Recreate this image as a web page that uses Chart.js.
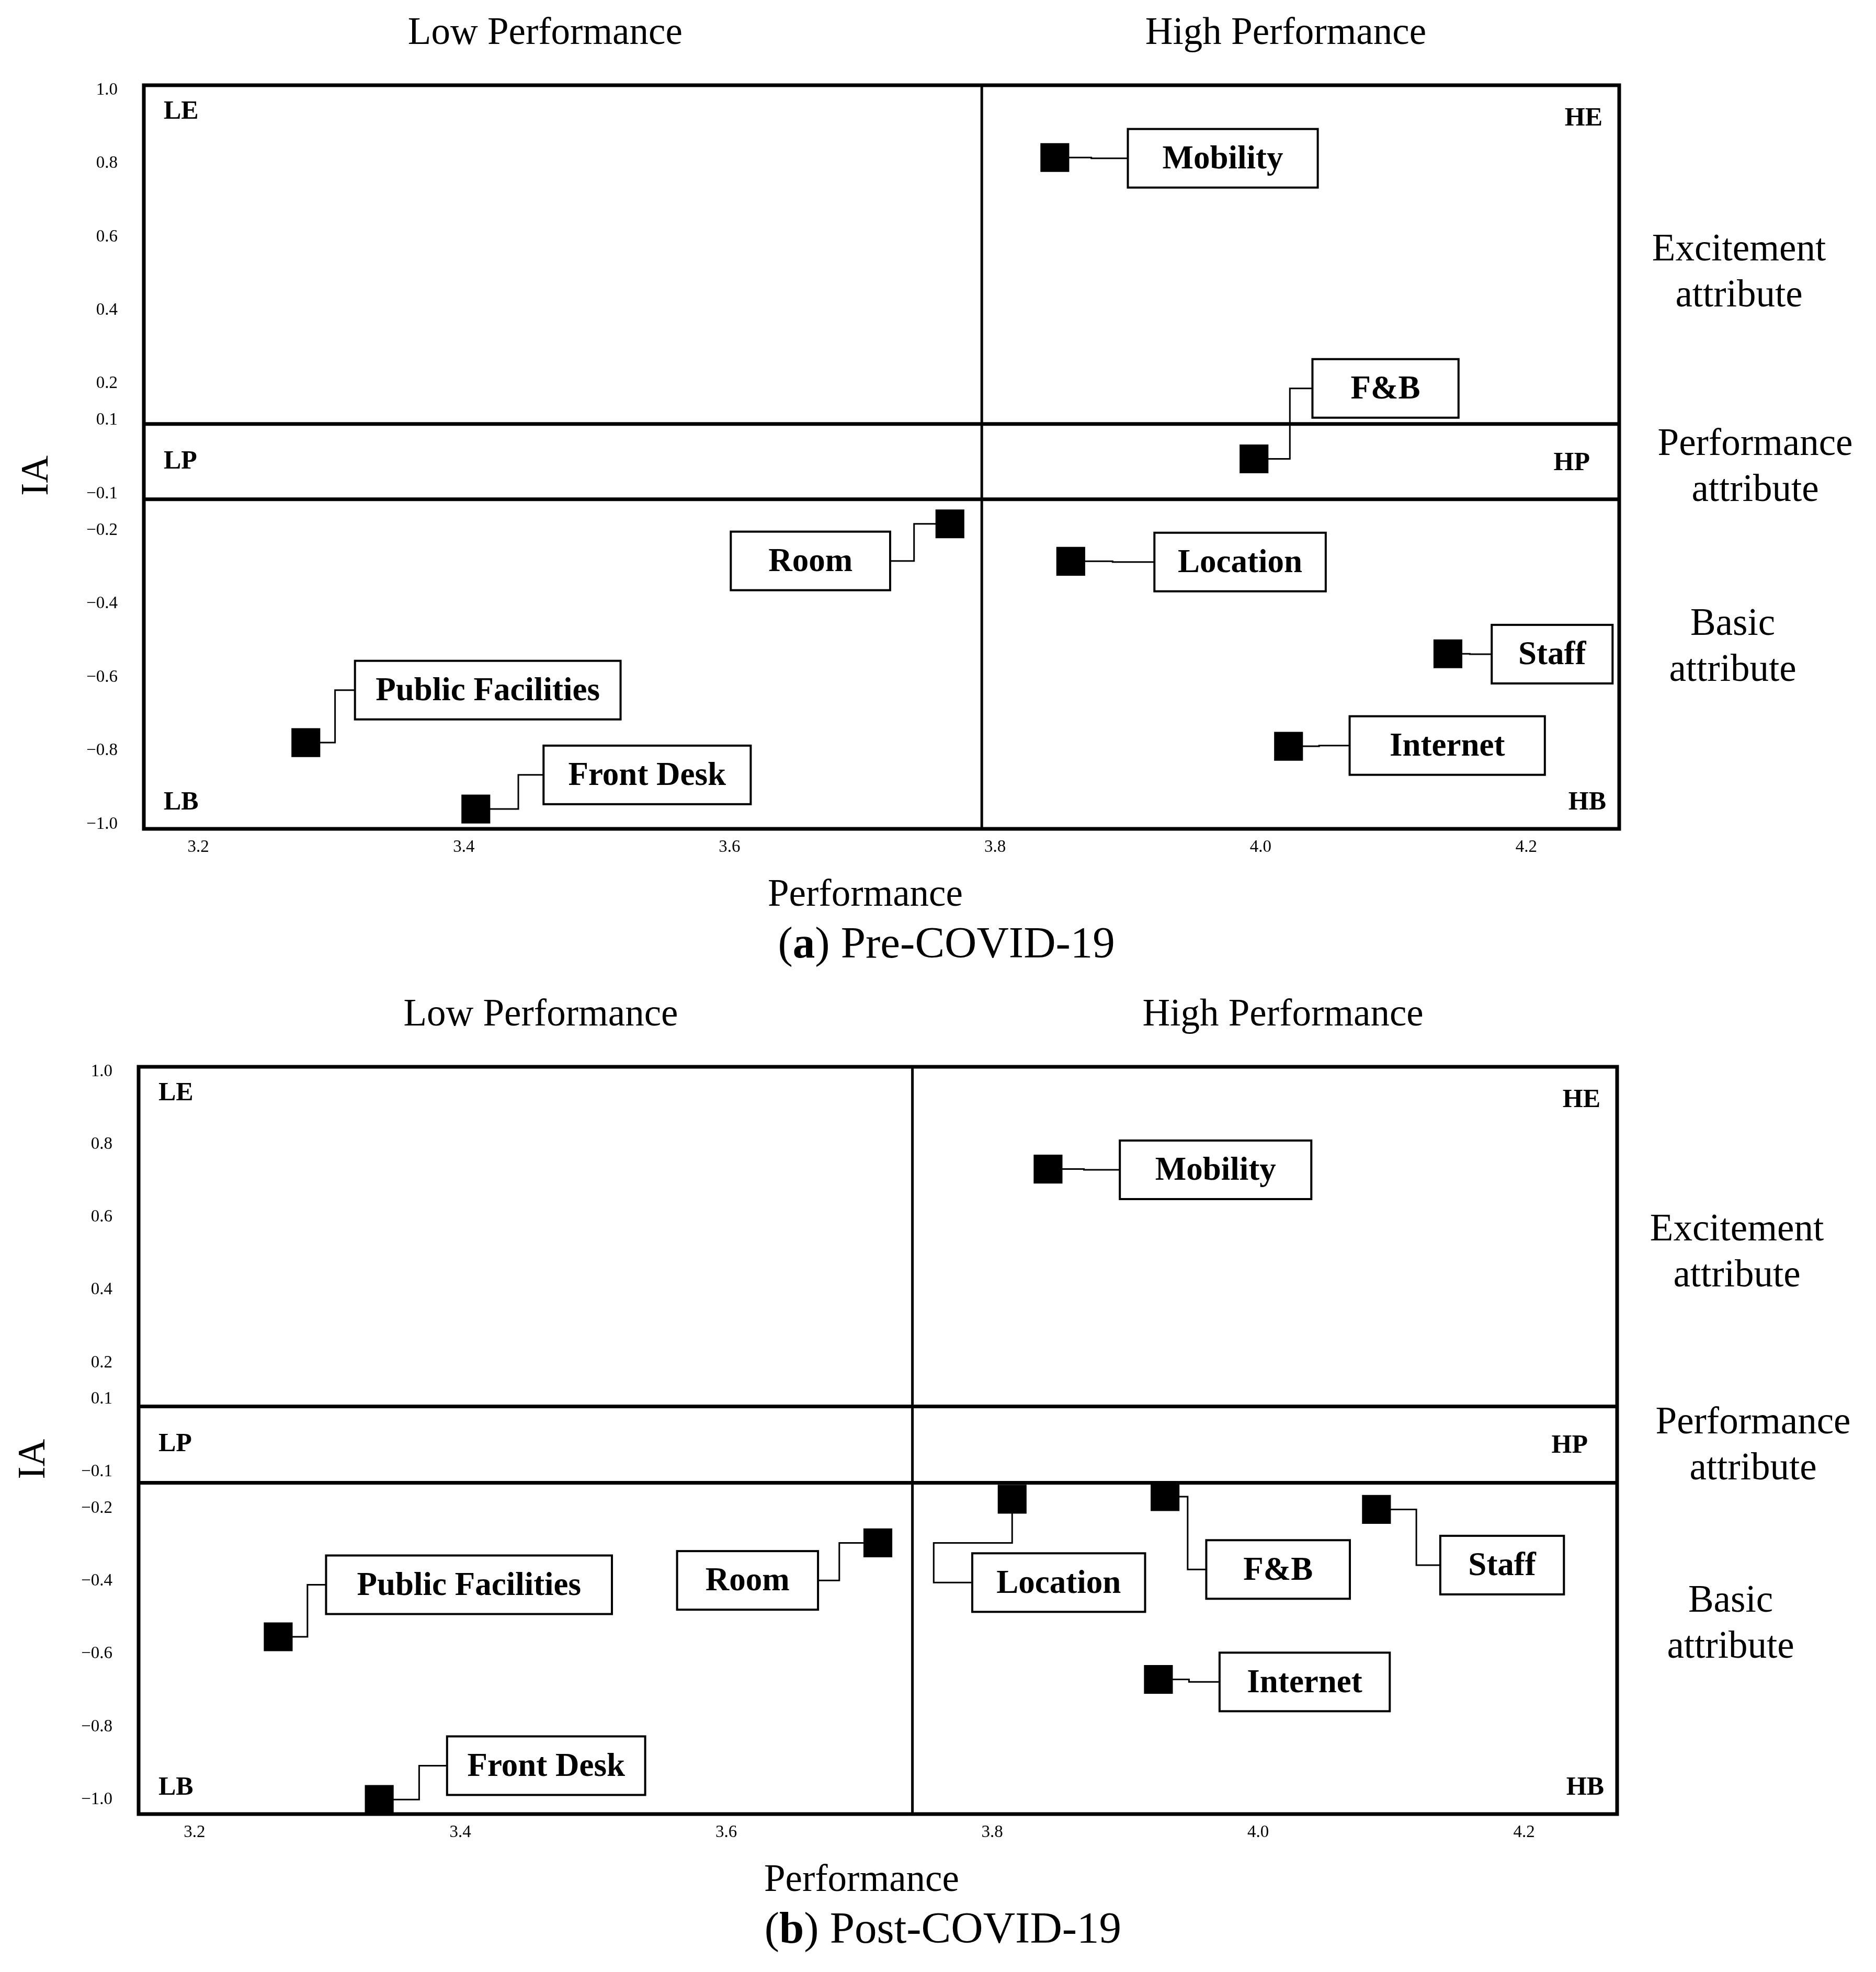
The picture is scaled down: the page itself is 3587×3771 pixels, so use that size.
<!DOCTYPE html>
<html>
<head>
<meta charset="utf-8">
<script src="https://cdn.jsdelivr.net/npm/chart.js@4.4.1/dist/chart.umd.min.js"></script>
<style>
  html, body { margin: 0; padding: 0; background: #fff; }
  canvas { display: block; }
</style>
</head>
<body>
<canvas id="preChart" width="3587" height="1885"></canvas>
<canvas id="postChart" width="3587" height="1886"></canvas>
<script>
// attribute names, same order in every array below
const attributes = ['Mobility', 'F&B', 'Room', 'Location', 'Staff', 'Internet', 'Public Facilities', 'Front Desk'];

// (a) Pre-COVID-19: performance and impact asymmetry (IA)
const prePerformance = [3.845, 3.995, 3.766, 3.857, 4.141, 4.021, 3.281, 3.409];
const preIA = [0.816, -0.005, -0.182, -0.284, -0.536, -0.788, -0.778, -0.959];

// (b) Post-COVID-19
const postPerformance = [3.842, 3.930, 3.714, 3.815, 4.089, 3.925, 3.263, 3.339];
const postIA = [0.732, -0.168, -0.295, -0.175, -0.203, -0.670, -0.553, -1.0];

const xTicks = [3.2, 3.4, 3.6, 3.8, 4.0, 4.2];
const yTicks = [1.0, 0.8, 0.6, 0.4, 0.2, 0.1, -0.1, -0.2, -0.4, -0.6, -0.8, -1.0];

const zoneLabels = [['Excitement', 'attribute'], ['Performance', 'attribute'], ['Basic', 'attribute']];
const cornerLabels = ['LE', 'HE', 'LP', 'HP', 'LB', 'HB'];

// label boxes: [left, right, centre IA] in data units
const preBoxes = [
    [3.900, 4.043, 0.814], [4.039, 4.149, 0.187], [3.601, 3.721, -0.283], [3.920, 4.049, -0.286],
    [4.174, 4.265, -0.537], [4.067, 4.214, -0.786], [3.318, 3.518, -0.635], [3.460, 3.616, -0.866]
];
// connector bends: [bendX] or [bendY, bendX], null = straight
const preRoutes = [null, [4.022], [3.739], null, null, null, [3.303], [3.441]];

const postBoxes = [
    [3.896, 4.040, 0.730], [3.961, 4.069, -0.368], [3.563, 3.669, -0.398], [3.785, 3.915, -0.404],
    [4.137, 4.230, -0.356], [3.971, 4.099, -0.677], [3.299, 3.514, -0.410], [3.390, 3.539, -0.907]
];
const postRoutes = [null, [3.947], [3.685], [-0.295, 3.756], [4.119], null, [3.285], [3.369]];

const SERIF = '"Liberation Serif", "Times New Roman", serif';

function fmt(v) {
    const s = Math.abs(v).toFixed(1);
    return v < 0 ? '\u2212' + s : s;
}

function quadrantPlugin(p) {
    return {
        id: 'quadrants',
        beforeDatasetsDraw(chart) {
            const ctx = chart.ctx, a = chart.chartArea;
            const xs = chart.scales.x, ys = chart.scales.y;
            ctx.save();
            ctx.strokeStyle = '#000';
            ctx.fillStyle = '#000';

            // quadrant lines and frame
            const sx = xs.getPixelForValue(p.split[0]);
            const sy1 = ys.getPixelForValue(p.split[1]);
            const sy2 = ys.getPixelForValue(p.split[2]);
            ctx.lineWidth = 5;
            ctx.beginPath(); ctx.moveTo(sx, a.top); ctx.lineTo(sx, a.bottom); ctx.stroke();
            ctx.lineWidth = 7;
            ctx.beginPath();
            ctx.moveTo(a.left, sy1); ctx.lineTo(a.right, sy1);
            ctx.moveTo(a.left, sy2); ctx.lineTo(a.right, sy2);
            ctx.stroke();
            ctx.strokeRect(a.left, a.top, a.right - a.left, a.bottom - a.top);

            // corner labels
            ctx.font = 'bold 50px ' + SERIF;
            ctx.textBaseline = 'middle';
            const mid = (sy1 + sy2) / 2;
            ctx.textAlign = 'left';
            ctx.fillText(cornerLabels[0], a.left + 38, a.top + 51);
            ctx.fillText(cornerLabels[2], a.left + 38, mid);
            ctx.fillText(cornerLabels[4], a.left + 38, a.bottom - 50);
            ctx.textAlign = 'right';
            ctx.fillText(cornerLabels[1], a.right - 32, a.top + 64);
            ctx.fillText(cornerLabels[3], a.right - 56, mid + 3);
            ctx.fillText(cornerLabels[5], a.right - 25, a.bottom - 50);

            // connectors (squares are drawn on top)
            ctx.lineWidth = 3;
            p.xs.forEach(function (v, i) {
                const px = xs.getPixelForValue(v), py = ys.getPixelForValue(p.ys[i]);
                const b = p.boxes[i], r = p.routes[i];
                const bl = xs.getPixelForValue(b[0]), br = xs.getPixelForValue(b[1]);
                const by = ys.getPixelForValue(b[2]);
                ctx.beginPath();
                ctx.moveTo(px, py);
                let refX = px;
                if (r && r.length === 2) {
                    const yy = ys.getPixelForValue(r[0]), xx = xs.getPixelForValue(r[1]);
                    ctx.lineTo(px, yy); ctx.lineTo(xx, yy); ctx.lineTo(xx, by);
                    refX = xx;
                } else {
                    const edge0 = bl > px ? bl : br;
                    const xx = r ? xs.getPixelForValue(r[0]) : (px + edge0) / 2;
                    ctx.lineTo(xx, py); ctx.lineTo(xx, by);
                }
                ctx.lineTo(bl >= refX ? bl : br, by);
                ctx.stroke();
            });
            ctx.restore();
        },
        afterDatasetsDraw(chart) {
            const ctx = chart.ctx;
            const xs = chart.scales.x, ys = chart.scales.y;
            ctx.save();
            ctx.lineWidth = 4;
            ctx.strokeStyle = '#000';
            ctx.font = 'bold 63px ' + SERIF;
            ctx.textAlign = 'center';
            ctx.textBaseline = 'middle';
            p.boxes.forEach(function (b, i) {
                const l = xs.getPixelForValue(b[0]), r = xs.getPixelForValue(b[1]);
                const cy = ys.getPixelForValue(b[2]);
                ctx.fillStyle = '#fff';
                ctx.fillRect(l, cy - 56, r - l, 112);
                ctx.strokeRect(l, cy - 56, r - l, 112);
                ctx.fillStyle = '#000';
                ctx.fillText(attributes[i], (l + r) / 2, cy + 3);
            });
            ctx.restore();
        },
        afterDraw(chart) {
            const ctx = chart.ctx, a = chart.chartArea, ys = chart.scales.y;
            const w = a.right - a.left, h = a.bottom - a.top;
            ctx.save();
            ctx.fillStyle = '#000';
            ctx.textBaseline = 'middle';
            ctx.textAlign = 'center';
            ctx.font = '73px ' + SERIF;
            ctx.fillText('Low Performance', a.left + 0.272 * w, a.top - 98);
            ctx.fillText('High Performance', a.left + 0.774 * w, a.top - 98);
            ctx.fillText('Performance', a.left + 0.489 * w, a.bottom + 128);

            // right-hand zone names
            const zoneY = [0.5, -0.03, -0.52], zoneDx = [229, 260, 217];
            zoneLabels.forEach(function (lines, i) {
                const cy = ys.getPixelForValue(zoneY[i]);
                ctx.fillText(lines[0], a.right + zoneDx[i], cy - 44);
                ctx.fillText(lines[1], a.right + zoneDx[i], cy + 44);
            });

            // y axis title
            ctx.save();
            ctx.translate(p.iaX, a.top + 0.525 * h);
            ctx.rotate(-Math.PI / 2);
            ctx.fillText('IA', 0, 0);
            ctx.restore();

            // caption
            ctx.font = '85px ' + SERIF;
            const open = '(', close = ')' + p.captionText;
            ctx.font = '85px ' + SERIF;
            const w1 = ctx.measureText(open).width, w3 = ctx.measureText(close).width;
            ctx.font = 'bold 85px ' + SERIF;
            const w2 = ctx.measureText(p.caption).width;
            let cx = a.left + 0.544 * w - (w1 + w2 + w3) / 2;
            const cyc = a.bottom + 224;
            ctx.textAlign = 'left';
            ctx.font = '85px ' + SERIF;
            ctx.fillText(open, cx, cyc);
            ctx.font = 'bold 85px ' + SERIF;
            ctx.fillText(p.caption, cx + w1, cyc);
            ctx.font = '85px ' + SERIF;
            ctx.fillText(close, cx + w1 + w2, cyc);
            ctx.restore();
        }
    };
}

const panels = [
    {
        id: 'preChart', caption: 'a', captionText: ' Pre-COVID-19',
        xs: prePerformance, ys: preIA, boxes: preBoxes, routes: preRoutes,
        xMin: 3.159, xMax: 4.27, yMin: -1.013, yMax: 1.013,
        split: [3.79, 0.09, -0.115],
        padTop: 163, padRight: 491, yAxisW: 275, xAxisH: 300, iaX: 72
    },
    {
        id: 'postChart', caption: 'b', captionText: ' Post-COVID-19',
        xs: postPerformance, ys: postIA, boxes: postBoxes, routes: postRoutes,
        xMin: 3.158, xMax: 4.27, yMin: -1.04, yMax: 1.013,
        split: [3.74, 0.08, -0.13],
        padTop: 155, padRight: 495, yAxisW: 265, xAxisH: 302, iaX: 66
    }
];

panels.forEach(function (p) {
    const ctx = document.getElementById(p.id).getContext('2d');
    new Chart(ctx, {
        type: 'scatter',
        data: {
            datasets: [{
                label: p.id,
                data: p.xs.map(function (v, i) { return { x: v, y: p.ys[i] }; }),
                pointStyle: 'rect',
                pointRadius: 39,
                pointHoverRadius: 39,
                backgroundColor: '#000',
                borderWidth: 0,
                clip: false
            }]
        },
        options: {
            responsive: false,
            animation: false,
            devicePixelRatio: 1,
            layout: { padding: { top: p.padTop, right: p.padRight, left: 0, bottom: 0 } },
            scales: {
                x: {
                    type: 'linear',
                    min: p.xMin,
                    max: p.xMax,
                    afterBuildTicks: function (scale) {
                        scale.ticks = xTicks.map(function (v) { return { value: v }; });
                    },
                    afterFit: function (scale) { scale.height = p.xAxisH; },
                    grid: { display: false, drawTicks: false },
                    border: { display: false },
                    ticks: {
                        autoSkip: false,
                        maxRotation: 0,
                        padding: 16,
                        color: '#000',
                        font: { family: SERIF, size: 33 },
                        callback: function (v) { return fmt(v); }
                    }
                },
                y: {
                    type: 'linear',
                    min: p.yMin,
                    max: p.yMax,
                    afterBuildTicks: function (scale) {
                        scale.ticks = yTicks.map(function (v) { return { value: v }; });
                    },
                    afterFit: function (scale) { scale.width = p.yAxisW; },
                    grid: { display: false, drawTicks: false },
                    border: { display: false },
                    ticks: {
                        autoSkip: false,
                        padding: 50,
                        color: '#000',
                        font: { family: SERIF, size: 33 },
                        callback: function (v) { return fmt(v); }
                    }
                }
            },
            plugins: {
                legend: { display: false },
                tooltip: { enabled: false }
            }
        },
        plugins: [quadrantPlugin(p)]
    });
});
</script>
</body>
</html>
